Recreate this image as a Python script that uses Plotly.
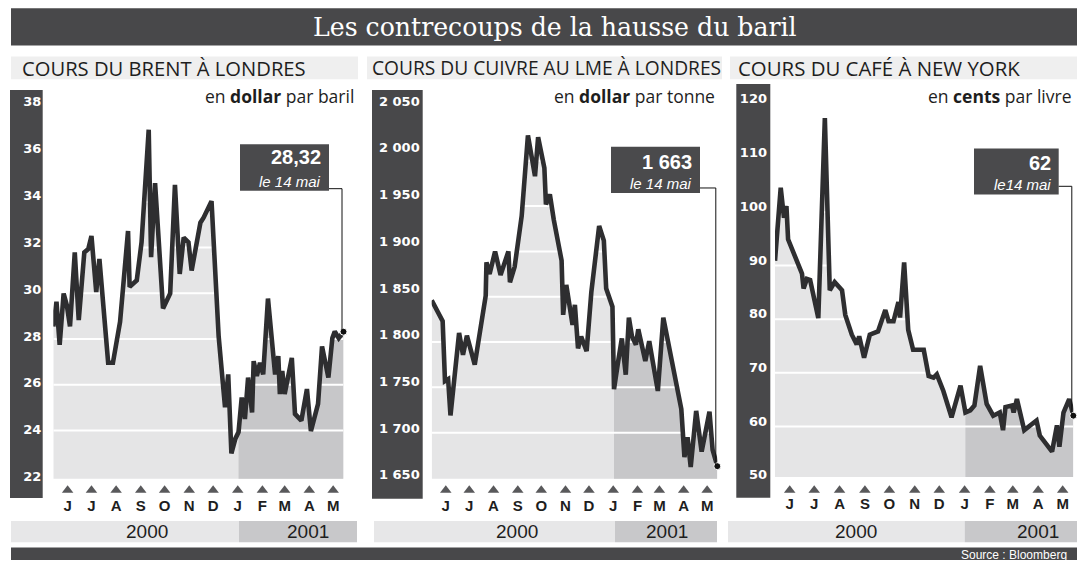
import pandas as pd
import plotly.graph_objects as go

# ---------------- data ----------------
brent_dates = ["2000-05-14", "2000-05-18", "2000-05-22", "2000-05-27", "2000-05-31", "2000-06-04",
               "2000-06-10", "2000-06-15", "2000-06-22", "2000-06-27", "2000-07-01", "2000-07-07",
               "2000-07-11", "2000-07-22", "2000-07-28", "2000-08-06", "2000-08-16", "2000-08-18",
               "2000-08-27", "2000-09-02", "2000-09-11", "2000-09-14", "2000-09-19", "2000-09-29",
               "2000-10-08", "2000-10-14", "2000-10-20", "2000-10-25", "2000-10-31", "2000-11-04",
               "2000-11-15", "2000-11-19", "2000-11-29", "2000-12-08", "2000-12-16", "2000-12-20",
               "2000-12-24", "2000-12-29", "2001-01-02", "2001-01-06", "2001-01-10", "2001-01-14",
               "2001-01-19", "2001-01-21", "2001-01-25", "2001-01-29", "2001-02-02", "2001-02-08",
               "2001-02-17", "2001-02-21", "2001-02-23", "2001-02-26", "2001-03-01", "2001-03-10",
               "2001-03-14", "2001-03-22", "2001-03-29", "2001-04-03", "2001-04-12", "2001-04-17",
               "2001-04-25", "2001-04-30", "2001-05-03", "2001-05-08", "2001-05-14"]
brent_values = [28.55, 29.63, 27.75, 29.99, 29.48, 28.55, 31.79, 28.83, 31.79, 31.94, 32.51, 30.06,
                31.50, 26.96, 26.96, 28.76, 32.73, 30.28, 30.57, 32.23, 37.16, 31.58, 34.82, 29.34,
                29.99, 34.75, 30.85, 32.44, 32.23, 31.00, 33.09, 33.31, 34.03, 28.11, 25.01, 26.45,
                22.99, 23.64, 23.93, 25.44, 24.50, 26.31, 24.79, 27.03, 26.38, 26.96, 26.45, 29.77,
                26.45, 27.25, 25.59, 26.60, 25.59, 27.17, 24.72, 24.43, 25.81, 23.97, 25.16, 27.68,
                26.31, 28.04, 28.33, 28.04, 28.32]

copper_dates = ["2000-05-14", "2000-05-28", "2000-05-31", "2000-06-04", "2000-06-07", "2000-06-18",
                "2000-06-23", "2000-06-28", "2000-07-08", "2000-07-22", "2000-07-23", "2000-07-27",
                "2000-08-03", "2000-08-10", "2000-08-20", "2000-08-22", "2000-08-28", "2000-09-06",
                "2000-09-14", "2000-09-23", "2000-09-27", "2000-10-05", "2000-10-07", "2000-10-12",
                "2000-10-17", "2000-10-27", "2000-10-29", "2000-11-02", "2000-11-06", "2000-11-10",
                "2000-11-13", "2000-11-17", "2000-11-21", "2000-11-28", "2000-12-04", "2000-12-14",
                "2000-12-20", "2000-12-23", "2000-12-31", "2001-01-02", "2001-01-07", "2001-01-12",
                "2001-01-17", "2001-01-21", "2001-01-25", "2001-01-30", "2001-02-02", "2001-02-06",
                "2001-02-11", "2001-02-16", "2001-02-27", "2001-03-06", "2001-03-14", "2001-03-22",
                "2001-03-29", "2001-04-02", "2001-04-06", "2001-04-10", "2001-04-17", "2001-04-24",
                "2001-05-04", "2001-05-08", "2001-05-14"]
copper_values = [1846, 1823, 1757, 1759, 1719, 1810, 1786, 1807, 1775, 1851, 1888, 1875,
                 1900, 1874, 1900, 1866, 1883, 1939, 2028, 1983, 2026, 1992, 1952, 1963,
                 1935, 1890, 1830, 1863, 1841, 1819, 1841, 1793, 1806, 1790, 1855, 1928,
                 1912, 1859, 1839, 1748, 1777, 1804, 1764, 1827, 1806, 1797, 1814, 1797,
                 1779, 1801, 1746, 1827, 1790, 1754, 1726, 1673, 1695, 1662, 1724, 1679,
                 1723, 1681, 1663]

coffee_dates = ["2000-05-14", "2000-05-21", "2000-05-25", "2000-05-28", "2000-05-30", "2000-06-05",
                "2000-06-16", "2000-06-18", "2000-06-22", "2000-06-26", "2000-07-06", "2000-07-14",
                "2000-07-20", "2000-07-26", "2000-08-04", "2000-08-08", "2000-08-16", "2000-08-22",
                "2000-08-25", "2000-08-31", "2000-09-07", "2000-09-17", "2000-09-26", "2000-09-30",
                "2000-10-06", "2000-10-12", "2000-10-14", "2000-10-19", "2000-10-24", "2000-10-30",
                "2000-11-12", "2000-11-18", "2000-11-24", "2000-11-28", "2000-12-06", "2000-12-16",
                "2000-12-27", "2001-01-02", "2001-01-08", "2001-01-13", "2001-01-20", "2001-01-28",
                "2001-02-05", "2001-02-13", "2001-02-17", "2001-02-20", "2001-02-28", "2001-03-02",
                "2001-03-06", "2001-03-15", "2001-03-30", "2001-04-03", "2001-04-18", "2001-04-24",
                "2001-04-27", "2001-05-02", "2001-05-09", "2001-05-14"]
coffee_values = [90.9, 104.5, 98.9, 101.1, 94.9, 92.5, 88.5, 85.7, 87.5, 87.3, 80.2, 117.5,
                 85.4, 86.9, 85.4, 80.8, 77.1, 75.3, 76.8, 72.8, 77.1, 77.7, 81.7, 79.6,
                 79.6, 83.2, 80.3, 90.6, 78.0, 74.3, 74.3, 69.4, 69.1, 69.7, 66.6, 61.7,
                 67.6, 62.6, 63.0, 63.9, 71.3, 64.2, 62.0, 62.6, 59.3, 63.6, 63.9, 62.6,
                 65.1, 59.3, 61.1, 58.3, 55.3, 60.2, 56.2, 62.6, 65.1, 62.0]

month_ticks = ["2000-06-01", "2000-07-01", "2000-08-01", "2000-09-01", "2000-10-01", "2000-11-01",
               "2000-12-01", "2001-01-01", "2001-02-01", "2001-03-01", "2001-04-01", "2001-05-01"]
month_labels = ["J", "J", "A", "S", "O", "N", "D", "J", "F", "M", "A", "M"]
year_labels = ["2000", "2001"]

brent_ticks = [22, 24, 26, 28, 30, 32, 34, 36, 38]
brent_ticktext = ["22", "24", "26", "28", "30", "32", "34", "36", "38"]
copper_ticks = [1650, 1700, 1750, 1800, 1850, 1900, 1950, 2000, 2050]
copper_ticktext = ["1 650", "1 700", "1 750", "1 800", "1 850", "1 900", "1 950", "2 000", "2 050"]
coffee_ticks = [50, 60, 70, 80, 90, 100, 110, 120]
coffee_ticktext = ["50", "60", "70", "80", "90", "100", "110", "120"]

titles = ["COURS DU BRENT À LONDRES", "COURS DU CUIVRE AU LME À LONDRES", "COURS DU CAFÉ À NEW YORK"]
units = ["en <b>dollar</b> par baril", "en <b>dollar</b> par tonne", "en <b>cents</b> par livre"]
callout_values = ["28,32", "1 663", "62"]
callout_dates = ["le 14 mai", "le 14 mai", "le14 mai"]
main_title = "Les contrecoups de la hausse du baril"
source_text = "Source : Bloomberg"

# ---------------- layout helpers ----------------
W, H = 1077, 565


def fx(px):
    return px / W


def fy(py):
    return 1 - py / H


DARK = "#48484a"
BOX = "#4a4a4c"
LINE = "#2e2e30"
FILL_A = "#e5e5e6"
FILL_B = "#c7c7c9"
YEAR_A = "#e7e7e8"
YEAR_B = "#c8c8ca"
SUB_BG = "#efefef"
TXT = "#1e1e1e"
SANS = "Liberation Sans, Arial, sans-serif"
HEAVY = "DejaVu Sans, Liberation Sans, sans-serif"
HUM = "Open Sans, sans-serif"
SERIF = "DejaVu Serif, Liberation Serif, serif"

X_START, X_END = "2000-05-14", "2001-05-14"
SPLIT = "2001-01-01"

panels = [
    dict(dates=brent_dates, values=brent_values, ticks=brent_ticks, ticktext=brent_ticktext,
         px0=53.3, px1=343.5, pyb=484, pyt=90, yr=[21.88, 38.94], lr=[21.90, 38.55], stand=11,
         band=(10, 42.7, 91, 503.3), sub=(11, 358, 20), sub_size=20.2, unit_x=356,
         box=(240, 329, 145.7, 192.7), val_y=158.7, date_y=183.0, lead_y=190.7,
         years=(11, 239, 357, 147, 308)),
    dict(dates=copper_dates, values=copper_values, ticks=copper_ticks, ticktext=copper_ticktext,
         px0=431.7, px1=717.3, pyb=484, pyt=90, yr=[1649.0, 2079.2], lr=[1645.8, 2063.0], stand=11,
         band=(372, 422.7, 91, 504), sub=(367, 722, 370), sub_size=19.2, unit_x=717,
         box=(611, 700, 148.3, 195), val_y=163.3, date_y=185.7, lead_y=190,
         years=(374, 615, 717, 516.7, 666.7)),
    dict(dates=coffee_dates, values=coffee_values, ticks=coffee_ticks, ticktext=coffee_ticktext,
         px0=775, px1=1073.3, pyb=482, pyt=90, yr=[50.59, 122.91], lr=[49.63, 121.84], stand=7,
         band=(736.3, 770.3, 85, 503), sub=(730, 1077, 736), sub_size=20.4, unit_x=1073,
         box=(974, 1058.7, 150, 196.7), val_y=165, date_y=186.7, lead_y=188.3,
         years=(728, 964.7, 1077, 856.3, 1038)),
]


def ref(n):
    return "" if n == 1 else str(n)


fig = go.Figure()
shapes = []
annotations = []
axes = {}

# title bar
shapes.append(dict(type="rect", xref="paper", yref="paper", x0=fx(11), x1=fx(1077), y0=fy(46), y1=fy(8.3),
                   fillcolor=DARK, line=dict(width=0), layer="below"))
annotations.append(dict(text=main_title, xref="paper", yref="paper", x=fx(555), y=fy(27.5),
                        xanchor="center", yanchor="middle", showarrow=False,
                        font=dict(family=SERIF, size=25.2, color="white")))
# bottom bar
shapes.append(dict(type="rect", xref="paper", yref="paper", x0=fx(11), x1=fx(1077), y0=fy(566), y1=fy(553.3),
                   fillcolor=DARK, line=dict(width=0), layer="below"))
annotations.append(dict(text=source_text, xref="paper", yref="paper", x=fx(1069), y=fy(561),
                        xanchor="right", yanchor="middle", showarrow=False,
                        font=dict(family=SANS, size=12, color="white")))

t0 = pd.Timestamp(X_START)
t1 = pd.Timestamp(X_END)

for i, p in enumerate(panels, start=1):
    xr = "x" + ref(i)
    yr_ = "y" + ref(i)
    ylab = "y" + ref(3 + i)
    ytri = "y" + ref(6 + i)
    dates = pd.to_datetime(p["dates"])
    vals = p["values"]
    late = [k for k, d in enumerate(dates) if d >= pd.Timestamp(SPLIT)]

    # fills
    fig.add_trace(go.Scatter(x=p["dates"], y=vals, mode="lines", fill="tozeroy", fillcolor=FILL_A,
                             line=dict(width=0, color=FILL_A), hoverinfo="skip", showlegend=False,
                             xaxis=xr, yaxis=yr_))
    fig.add_trace(go.Scatter(x=[p["dates"][k] for k in late], y=[vals[k] for k in late], mode="lines",
                             fill="tozeroy", fillcolor=FILL_B, line=dict(width=0, color=FILL_B),
                             hoverinfo="skip", showlegend=False, xaxis=xr, yaxis=yr_))
    # white gridlines over the fill
    gx, gy = [], []
    for t in p["ticks"][1:]:
        gx += [X_START, X_END, None]
        gy += [t, t, None]
    fig.add_trace(go.Scatter(x=gx, y=gy, mode="lines", line=dict(color="white", width=2),
                             hoverinfo="skip", showlegend=False, xaxis=xr, yaxis=yr_))
    # price line
    fig.add_trace(go.Scatter(x=p["dates"], y=vals, mode="lines", line=dict(color=LINE, width=4.6),
                             showlegend=False, xaxis=xr, yaxis=yr_))
    # end dot
    fig.add_trace(go.Scatter(x=[p["dates"][-1]], y=[vals[-1]], mode="markers",
                             marker=dict(size=7, color="#111111", line=dict(color="white", width=1)),
                             showlegend=False, cliponaxis=False, xaxis=xr, yaxis=yr_))
    # label axis dummy
    fig.add_trace(go.Scatter(x=[], y=[], showlegend=False, xaxis=xr, yaxis=ylab))
    # month triangles
    fig.add_trace(go.Scatter(x=month_ticks, y=[0] * len(month_ticks), mode="markers",
                             marker=dict(symbol="triangle-up", size=10, color="#59595b"),
                             hoverinfo="skip", showlegend=False, cliponaxis=False, xaxis=xr, yaxis=ytri))

    axes["xaxis" + ref(i)] = dict(domain=[fx(p["px0"]), fx(p["px1"])], type="date", range=[X_START, X_END],
                                  anchor=yr_, tickmode="array", tickvals=month_ticks,
                                  ticktext=["<b>" + m + "</b>" for m in month_labels],
                                  tickfont=dict(family=SANS, size=15, color=TXT),
                                  showgrid=False, zeroline=False, showline=False, ticks="",
                                  ticklabelstandoff=16, fixedrange=True)
    axes["yaxis" + ref(i)] = dict(domain=[fy(p["pyb"]), fy(p["pyt"])], range=p["yr"], anchor=xr,
                                  visible=False, fixedrange=True)
    axes["yaxis" + ref(3 + i)] = dict(overlaying=yr_, anchor=xr, side="left", range=p["lr"],
                                      tickmode="array", tickvals=p["ticks"],
                                      ticktext=["<b>" + t + "</b>" for t in p["ticktext"]],
                                      tickfont=dict(family=HEAVY, size=13, color="white"),
                                      showgrid=False, zeroline=False, showline=False, ticks="",
                                      ticklabelstandoff=p["stand"], fixedrange=True)
    axes["yaxis" + ref(6 + i)] = dict(domain=[fy(502), fy(489)], range=[-0.5, 0.5], anchor=xr,
                                      visible=False, fixedrange=True)

    # dark y band
    bx0, bx1, by0, by1 = p["band"]
    shapes.append(dict(type="rect", xref="paper", yref="paper", x0=fx(bx0), x1=fx(bx1), y0=fy(by1), y1=fy(by0),
                       fillcolor=DARK, line=dict(width=0), layer="below"))
    # subtitle box
    sx0, sx1, stx = p["sub"]
    shapes.append(dict(type="rect", xref="paper", yref="paper", x0=fx(sx0), x1=fx(sx1), y0=fy(80), y1=fy(57),
                       fillcolor=SUB_BG, line=dict(width=0), layer="below"))
    annotations.append(dict(text=titles[i - 1], xref="paper", yref="paper", x=fx(stx), y=fy(68.5),
                            xanchor="left", yanchor="middle", showarrow=False,
                            font=dict(family=HUM, size=p["sub_size"], color=TXT)))
    # unit
    annotations.append(dict(text=units[i - 1], xref="paper", yref="paper", x=fx(p["unit_x"]), y=fy(97.5),
                            xanchor="right", yanchor="middle", showarrow=False,
                            font=dict(family=HUM, size=17.5, color=TXT)))
    # year bar
    ya0, ysplit, ya1, t2000, t2001 = p["years"]
    shapes.append(dict(type="rect", xref="paper", yref="paper", x0=fx(ya0), x1=fx(ysplit), y0=fy(548), y1=fy(526.5),
                       fillcolor=YEAR_A, line=dict(width=0), layer="below"))
    shapes.append(dict(type="rect", xref="paper", yref="paper", x0=fx(ysplit), x1=fx(ya1), y0=fy(548), y1=fy(526.5),
                       fillcolor=YEAR_B, line=dict(width=0), layer="below"))
    for txt, cx in zip(year_labels, (t2000, t2001)):
        annotations.append(dict(text=txt, xref="paper", yref="paper", x=fx(cx), y=fy(537.5),
                                xanchor="center", yanchor="middle", showarrow=False,
                                font=dict(family=SANS, size=19, color=TXT)))
    # callout box
    cb0, cb1, cy0, cy1 = p["box"]
    shapes.append(dict(type="rect", xref="paper", yref="paper", x0=fx(cb0), x1=fx(cb1), y0=fy(cy1), y1=fy(cy0),
                       fillcolor=BOX, line=dict(width=0), layer="above"))
    annotations.append(dict(text="<b>" + callout_values[i - 1] + "</b>", xref="paper", yref="paper",
                            x=fx(cb1 - 6), y=fy(p["val_y"]),
                            xanchor="right", yanchor="middle", showarrow=False,
                            font=dict(family=SANS, size=20, color="white")))
    annotations.append(dict(text="<i>" + callout_dates[i - 1] + "</i>", xref="paper", yref="paper",
                            x=fx(cb1 - 6), y=fy(p["date_y"]), xanchor="right", yanchor="middle",
                            showarrow=False, font=dict(family=SANS, size=15, color="white")))
    # leader line to last point (pixel position derived from the axes ranges)
    last = dates[-1]
    frac_x = (last - t0).total_seconds() / (t1 - t0).total_seconds()
    lx = p["px0"] + (p["px1"] - p["px0"]) * frac_x
    r0, r1 = p["yr"]
    ly = p["pyb"] - (p["pyb"] - p["pyt"]) * (vals[-1] - r0) / (r1 - r0)
    shapes.append(dict(type="line", xref="paper", yref="paper", x0=fx(cb1), x1=fx(lx - 1.5),
                       y0=fy(p["lead_y"]), y1=fy(p["lead_y"]), line=dict(color="#111111", width=1), layer="above"))
    shapes.append(dict(type="line", xref="paper", yref="paper", x0=fx(lx - 1.5), x1=fx(lx - 1.5),
                       y0=fy(p["lead_y"]), y1=fy(ly), line=dict(color="#111111", width=1), layer="above"))

fig.update_layout(width=W, height=H, margin=dict(l=0, r=0, t=0, b=0, pad=0), autosize=False,
                  paper_bgcolor="white", plot_bgcolor="rgba(0,0,0,0)", showlegend=False,
                  shapes=shapes, annotations=annotations, hovermode=False, **axes)

fig.write_html("out.html", config={"displayModeBar": False},
               post_script="document.body.style.margin='0';")
